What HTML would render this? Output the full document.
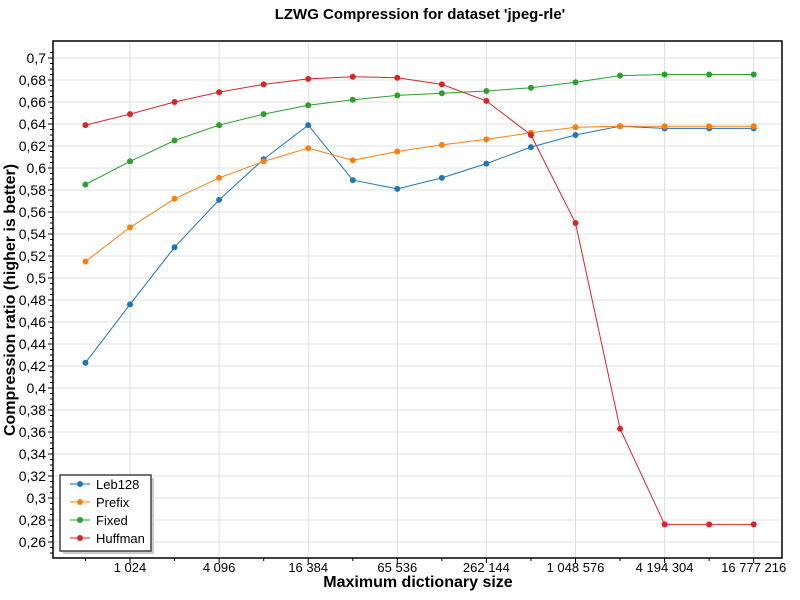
<!DOCTYPE html>
<html><head><meta charset="utf-8"><style>
body{margin:0;background:#fff;font-family:"Liberation Sans",sans-serif}
svg{display:block}
</style></head><body>
<svg id="c" width="800" height="600" xmlns="http://www.w3.org/2000/svg">
<text x="420" y="19" text-anchor="middle" font-size="15" font-weight="bold">LZWG Compression for dataset 'jpeg-rle'</text>
<text transform="translate(15,300) rotate(-90)" text-anchor="middle" font-size="16" font-weight="bold">Compression ratio (higher is better)</text>
<text x="418" y="587" text-anchor="middle" font-size="16" font-weight="bold">Maximum dictionary size</text>
<g id="grid"></g><g id="axes"></g><g id="series"></g><g id="legend"></g>
</svg>
<script>
const exponents=[9,10,11,12,13,14,15,16,17,18,19,20,21,22,23,24];
const seriesNames=["Leb128","Prefix","Fixed","Huffman"];
const seriesColors=["#1f77b4","#ff7f0e","#2ca02c","#d62728"];
const leb128=[0.423,0.476,0.528,0.571,0.608,0.639,0.589,0.581,0.591,0.604,0.619,0.630,0.638,0.636,0.636,0.636];
const prefix=[0.515,0.546,0.572,0.591,0.606,0.618,0.607,0.615,0.621,0.626,0.632,0.637,0.638,0.638,0.638,0.638];
const fixed=[0.585,0.606,0.625,0.639,0.649,0.657,0.662,0.666,0.668,0.670,0.673,0.678,0.684,0.685,0.685,0.685];
const huffman=[0.639,0.649,0.660,0.669,0.676,0.681,0.683,0.682,0.676,0.661,0.630,0.550,0.363,0.276,0.276,0.276];
const yTicks=[0.26,0.28,0.3,0.32,0.34,0.36,0.38,0.4,0.42,0.44,0.46,0.48,0.5,0.52,0.54,0.56,0.58,0.6,0.62,0.64,0.66,0.68,0.7];
const xTickExp=[10,12,14,16,18,20,22,24];
const xTickLabels=["1 024","4 096","16 384","65 536","262 144","1 048 576","4 194 304","16 777 216"];
const NS="http://www.w3.org/2000/svg";
const L=53,R=782,T=41,B=558;
function X(k){return 130+(k-10)*44.55;}
function Y(v){return 58+(0.7-v)/0.02*22;}
function mk(p,tag,a){const e=document.createElementNS(NS,tag);for(const k in a)e.setAttribute(k,a[k]);p.appendChild(e);return e;}
const grid=document.getElementById('grid'),axes=document.getElementById('axes'),ser=document.getElementById('series'),leg=document.getElementById('legend');
yTicks.forEach(v=>{const y=Y(v);
 const g=mk(grid,'line',{x1:L,x2:R,y1:y,y2:y,stroke:'#e0e0e0','stroke-width':1});
 
 
 mk(axes,'line',{x1:L-5,x2:L,y1:y,y2:y,stroke:'#000'});
 const t=mk(axes,'text',{x:L-7,y:y+5,'text-anchor':'end','font-size':14});t.textContent=String(v).replace('.',',');
 
 
});
for(let v=0.25;v<0.71;v+=0.005){const y=Y(v);if(y<T||y>B)continue;mk(axes,'line',{x1:L-3,x2:L,y1:y,y2:y,stroke:'#000'});}
xTickExp.forEach((k,i)=>{const x=X(k);
 const g=mk(grid,'line',{x1:x,x2:x,y1:T,y2:B,stroke:'#e0e0e0'});
 
 
 mk(axes,'line',{x1:x,x2:x,y1:B,y2:B+5,stroke:'#000'});
 const t=mk(axes,'text',{x:x,y:B+14,'text-anchor':'middle','font-size':13});t.textContent=xTickLabels[i];
 
 
});
for(let k=9;k<=25;k+=2){const x=X(k);if(x<R)mk(axes,'line',{x1:x,x2:x,y1:B,y2:B+3,stroke:'#000'});}
const fr=mk(axes,'rect',{x:L,y:T,width:R-L,height:B-T,fill:'none',stroke:'#000','stroke-width':1.5});


[leb128,prefix,fixed,huffman].forEach((d,si)=>{
 const pts=d.map((v,i)=>X(exponents[i])+','+Y(v)).join(' ');
 const pl=mk(ser,'polyline',{points:pts,fill:'none',stroke:seriesColors[si],'stroke-width':1});
 
 
 d.forEach((v,i)=>{const c=mk(ser,'circle',{cx:X(exponents[i]),cy:Y(v),r:3,fill:seriesColors[si]});
  
  });
});
mk(leg,'rect',{x:63,y:478,width:91,height:76,fill:'#ccc'});
const lb=mk(leg,'rect',{x:60,y:475,width:91,height:76,fill:'#fff',stroke:'#444','stroke-width':1.5});


seriesNames.forEach((n,i)=>{const y=484+i*18;
 const g=mk(leg,'g',{});
 
 
 mk(g,'line',{x1:70,x2:90,y1:y,y2:y,stroke:seriesColors[i],'stroke-width':2,opacity:0.5});
 mk(g,'circle',{cx:80,cy:y,r:3,fill:seriesColors[i]});
 const t=mk(g,'text',{x:96,y:y+5,'font-size':13});t.textContent=n;});
</script>
</body></html>
